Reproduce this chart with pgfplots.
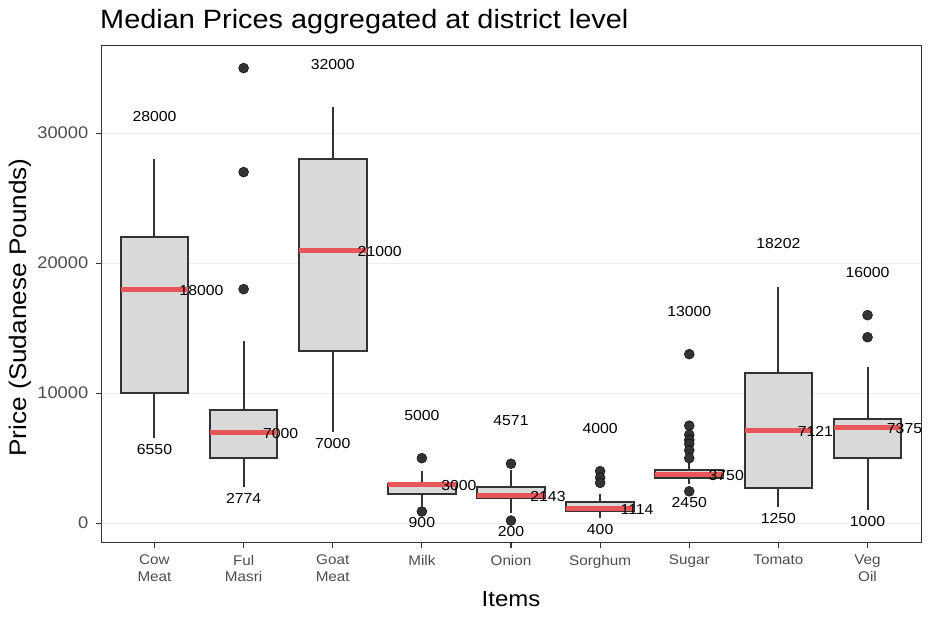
\documentclass[border=0pt]{standalone}
\usepackage{fontspec}
\setmainfont{Liberation Sans}[FakeStretch=1.09]
\usepackage{pgfplots}
\usepackage{pgfplotstable}
\pgfplotsset{compat=1.18}
\usepgfplotslibrary{statistics}

\definecolor{boxfill}{HTML}{D9D9D9}
\definecolor{boxline}{HTML}{333333}
\definecolor{medred}{HTML}{E8565A}
\definecolor{gridc}{HTML}{EBEBEB}
\definecolor{ticktext}{HTML}{4D4D4D}

% per item: x, minimum, median, maximum (prices), x of the median label
% y axis is in thousands of pounds to keep TeX dimensions small
\pgfplotstableread{
x  lo    med    hi     xl
1  6550  18000  28000  1.527
2  2774  7000   35000  2.415
3  7000  21000  32000  3.527
4  900   3000   5000   4.415
5  200   2143   4571   5.415
6  400   1114   4000   6.415
7  2450  3750   13000  7.415
8  1250  7121   18202  8.415
9  1000  7375   16000  9.415
}\stats

\begin{document}
\begin{tikzpicture}
\path[use as bounding box] (0,0) rectangle (931pt,617pt);

\begin{axis}[
    at={(101pt,74.3pt)}, anchor=south west,
    scale only axis, width=820pt, height=496.7pt,
    xmin=0.4, xmax=9.6,
    ymin=-1.5, ymax=36.7,
    xtick={1,2,3,4,5,6,7,8,9},
    xticklabels={{Cow\\Meat},{Ful\\Masri},{Goat\\Meat},Milk,Onion,Sorghum,Sugar,Tomato,{Veg\\Oil}},
    ytick={0,10,20,30},
    yticklabels={0,10000,20000,30000},
    tick align=outside, major tick length=5pt,
    every tick/.style={draw=boxline, line width=1.2pt},
    xtick pos=bottom, ytick pos=left,
    axis line style={draw=boxline, line width=1pt},
    ymajorgrids=true,
    grid style={draw=gridc, line width=0.6pt},
    yticklabel style={font=\fontsize{16.8}{18}\selectfont, text=ticktext, inner sep=0pt, xshift=-7.5pt},
    xticklabel style={font=\fontsize{14}{16.7}\selectfont, text=ticktext, align=center, inner sep=0pt, yshift=-7pt},
    boxplot/draw direction=y,
    boxplot/box extend=0.76,
    boxplot/whisker extend=0,
    boxplot/every box/.style={draw=boxline, fill=boxfill, line width=2pt},
    boxplot/every whisker/.style={draw=boxline, line width=2pt},
    boxplot/every median/.style={draw=medred, line width=5pt},
    outl/.style={mark=*, mark size=5pt, mark options={fill=boxline, draw=none}},
    lbl/.style={only marks, mark=none, nodes near coords, point meta=explicit symbolic,
        every node near coord/.append style={anchor=center, inner sep=0pt, text=black,
        font=\fontsize{14.5}{16}\selectfont}},
]

% Cow Meat
\addplot[outl, boxplot prepared={draw position=1, lower whisker=6.55, lower quartile=10,
    median=18, upper quartile=22, upper whisker=28}] coordinates {};
% Ful Masri
\addplot[outl, boxplot prepared={draw position=2, lower whisker=2.774, lower quartile=5,
    median=7, upper quartile=8.7, upper whisker=14}]
    table[row sep=\\, y index=0] {35\\ 27\\ 18\\};
% Goat Meat
\addplot[outl, boxplot prepared={draw position=3, lower whisker=7, lower quartile=13.25,
    median=21, upper quartile=28, upper whisker=32}] coordinates {};
% Milk
\addplot[outl, boxplot prepared={draw position=4, lower whisker=1.3, lower quartile=2.25,
    median=3, upper quartile=3, upper whisker=4}]
    table[row sep=\\, y index=0] {5\\ 0.9\\};
% Onion
\addplot[outl, boxplot prepared={draw position=5, lower whisker=0.8, lower quartile=1.95,
    median=2.143, upper quartile=2.8, upper whisker=4.1}]
    table[row sep=\\, y index=0] {4.571\\ 0.2\\};
% Sorghum
\addplot[outl, boxplot prepared={draw position=6, lower whisker=0.4, lower quartile=0.9,
    median=1.114, upper quartile=1.65, upper whisker=2.25}]
    table[row sep=\\, y index=0] {4\\ 3.5\\ 3.1\\};
% Sugar
\addplot[outl, boxplot prepared={draw position=7, lower whisker=3, lower quartile=3.5,
    median=3.75, upper quartile=4.1, upper whisker=4.6}]
    table[row sep=\\, y index=0] {13\\ 7.5\\ 6.8\\ 6.4\\ 6.1\\ 5.6\\ 5\\ 2.45\\};
% Tomato
\addplot[outl, boxplot prepared={draw position=8, lower whisker=1.25, lower quartile=2.7,
    median=7.121, upper quartile=11.55, upper whisker=18.202}] coordinates {};
% Veg Oil
\addplot[outl, boxplot prepared={draw position=9, lower whisker=1, lower quartile=5,
    median=7.375, upper quartile=8, upper whisker=12}]
    table[row sep=\\, y index=0] {16\\ 14.3\\};

% value labels
\addplot[lbl, restrict y to domain=-5:36.7] table[x=x, y expr=\thisrow{hi}/1000+3.3, meta=hi] {\stats};
\addplot[lbl] table[x=x, y expr=\thisrow{lo}/1000-0.87, meta=lo] {\stats};
\addplot[lbl] table[x=xl, y expr=\thisrow{med}/1000-0.09, meta=med] {\stats};
\end{axis}

\node[anchor=base west, inner sep=0pt, font=\fontsize{26.5}{30}\selectfont] at (100pt,588.7pt)
    {Median Prices aggregated at district level};
\node[anchor=base, inner sep=0pt, font=\fontsize{22}{26}\selectfont] at (511pt,10pt) {Items};
\node[anchor=base, rotate=90, inner sep=0pt, font=\fontsize{24}{28}\selectfont] at (26.7pt,309.5pt)
    {Price (Sudanese Pounds)};
\end{tikzpicture}
\end{document}
